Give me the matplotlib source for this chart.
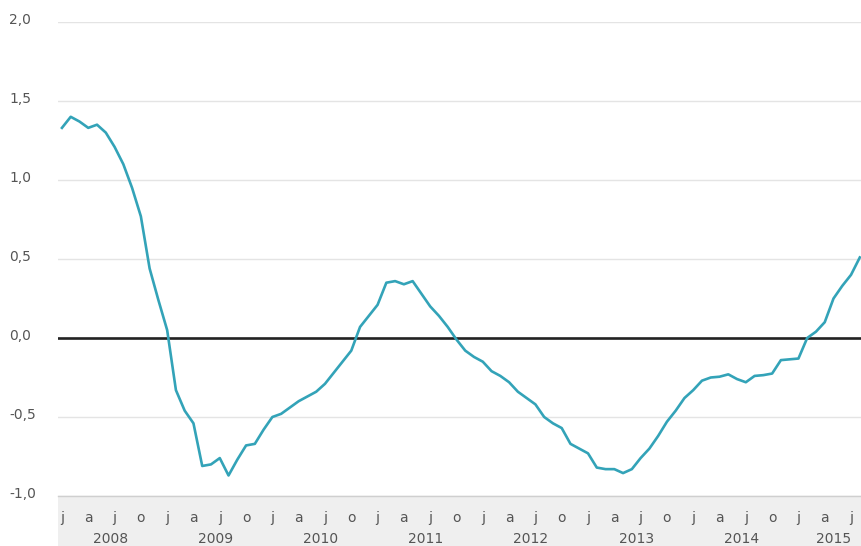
import matplotlib
matplotlib.use("Agg")
import matplotlib.pyplot as plt
import matplotlib.transforms as mtransforms
from matplotlib.patches import Rectangle
import numpy as np

# monthly values, jan 2008 .. aug 2015
years = [2008, 2009, 2010, 2011, 2012, 2013, 2014, 2015]
quarter_labels = ['j', 'a', 'j', 'o']
values = [
    1.33, 1.40, 1.37, 1.33, 1.35, 1.30, 1.21, 1.10, 0.95, 0.77, 0.44, 0.24,   # 2008
    0.05, -0.33, -0.46, -0.54, -0.81, -0.80, -0.76, -0.87, -0.77, -0.68, -0.67, -0.58,  # 2009
    -0.50, -0.48, -0.44, -0.40, -0.37, -0.34, -0.29, -0.22, -0.15, -0.08, 0.07, 0.14,  # 2010
    0.21, 0.35, 0.36, 0.34, 0.36, 0.28, 0.20, 0.14, 0.07, -0.01, -0.08, -0.12,  # 2011
    -0.15, -0.21, -0.24, -0.28, -0.34, -0.38, -0.42, -0.50, -0.54, -0.57, -0.67, -0.70,  # 2012
    -0.73, -0.82, -0.83, -0.83, -0.855, -0.83, -0.76, -0.70, -0.62, -0.53, -0.46, -0.38,  # 2013
    -0.33, -0.27, -0.25, -0.245, -0.23, -0.26, -0.28, -0.24, -0.235, -0.225, -0.14, -0.135,  # 2014
    -0.13, 0.0, 0.04, 0.10, 0.25, 0.33, 0.40, 0.51,  # 2015
]
yticks = [-1.0, -0.5, 0.0, 0.5, 1.0, 1.5, 2.0]

W, H = 862, 546
fig = plt.figure(figsize=(W / 100, H / 100), dpi=100)
fig.patch.set_facecolor('white')

left, right = 58 / W, 1.0
bottom, top = (H - 496) / H, 1 - 22 / H

# grey band with month / year labels (behind the axes)
fig.patches.append(Rectangle((left, 0), right - left, bottom, transform=fig.transFigure,
                             facecolor='#efefef', edgecolor='none', zorder=-5))

ax = fig.add_axes([left, bottom, right - left, top - bottom])
ax.patch.set_alpha(0)

x = np.arange(len(values))
xmax = len(values) - 1 + 0.25
ax.set_xlim(-0.45, xmax)
ax.set_ylim(-1.0, 2.0)

for v in yticks:
    ax.axhline(v, color='#e4e4e4', lw=1.0, zorder=1)
ax.axhline(-1.0, color='#cfcfcf', lw=1.0, zorder=1, clip_on=False)
ax.axhline(0, color='#222222', lw=1.9, zorder=2)
ax.plot(x, values, color='#33a3b8', lw=1.9, zorder=3, solid_joinstyle='round')

for s in ax.spines.values():
    s.set_visible(False)
ax.set_xticks([])
ax.set_yticks([])

txt_color = '#555555'
ytrans = mtransforms.blended_transform_factory(fig.transFigure, ax.transData)
for v in yticks:
    lab = ('%.1f' % v).replace('.', ',')
    ax.text(9 / W, v + 0.01, lab, transform=ytrans, ha='left', va='center',
            fontsize=10, color=txt_color, clip_on=False)

xtrans = mtransforms.blended_transform_factory(ax.transData, fig.transFigure)
for i in range(0, len(values), 3):
    ax.text(i, 1 - 518 / H, quarter_labels[(i // 3) % 4], transform=xtrans,
            ha='center', va='center', fontsize=10, color=txt_color, clip_on=False)
for k, yr in enumerate(years):
    pos = min(k * 12 + 5.5, xmax - 3.2)
    ax.text(pos, 1 - 539 / H, str(yr), transform=xtrans, ha='center', va='center',
            fontsize=10, color=txt_color, clip_on=False)

fig.savefig('out.png', dpi=100, facecolor='white')
